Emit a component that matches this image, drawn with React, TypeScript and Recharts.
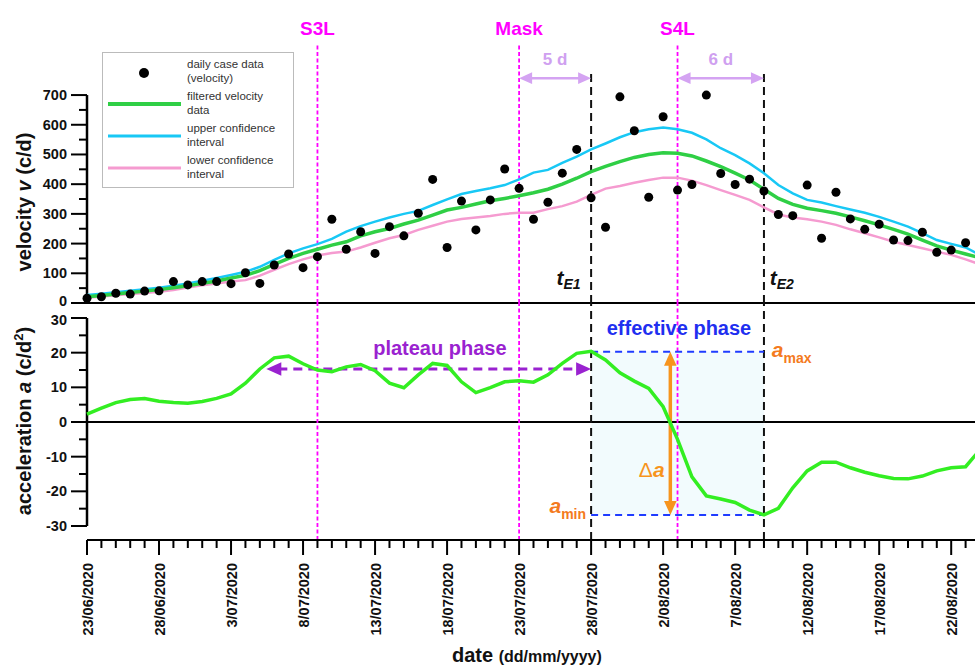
import React from 'react'
import { ComposedChart, Line, Scatter, XAxis, YAxis, ReferenceLine, ReferenceDot, ReferenceArea, Legend } from 'recharts'

// days since 23/06/2020
const dateTicks = ['23/06/2020', '28/06/2020', '3/07/2020', '8/07/2020', '13/07/2020', '18/07/2020', '23/07/2020', '28/07/2020', '2/08/2020', '7/08/2020', '12/08/2020', '17/08/2020', '22/08/2020']
const dayTicks = [0, 1, 2, 3, 4, 5, 6, 7, 8, 9, 10, 11, 12, 13, 14, 15, 16, 17, 18, 19, 20, 21, 22, 23, 24, 25, 26, 27, 28, 29, 30, 31, 32, 33, 34, 35, 36, 37, 38, 39, 40, 41, 42, 43, 44, 45, 46, 47, 48, 49, 50, 51, 52, 53, 54, 55, 56, 57, 58, 59, 60, 61, 62]
const vTicks = [0, 50, 100, 150, 200, 250, 300, 350, 400, 450, 500, 550, 600, 650, 700]
const aTicks = [-30, -25, -20, -15, -10, -5, 0, 5, 10, 15, 20, 25, 30]

const dailyCases = [16, 21, 33, 30, 40, 41, 72, 61, 72, 72, 65, 102, 66, 128, 165, 119, 156, 282, 181, 240, 167, 257, 226, 302, 416, 187, 343, 246, 347, 451, 386, 282, 339, 437, 517, 354, 255, 694, 580, 356, 627, 380, 399, 700, 436, 399, 417, 377, 298, 294, 397, 218, 373, 283, 248, 265, 212, 210, 238, 171, 178, 203]
const filtered = [21, 25, 30, 35, 40, 45, 51, 58, 66, 74, 84, 93, 109, 130, 150, 167, 181, 195, 206, 226, 240, 251, 266, 279, 296, 313, 322, 333, 344, 352, 361, 371, 383, 400, 420, 442, 460, 476, 490, 500, 506, 504, 495, 478, 459, 437, 414, 383, 352, 332, 319, 311, 302, 290, 277, 263, 248, 232, 212, 192, 178, 165, 152]
const upper = [27, 31, 36, 41, 46, 51, 58, 66, 75, 84, 94, 105, 122, 145, 167, 184, 198, 216, 240, 259, 274, 288, 300, 310, 330, 349, 367, 377, 386, 397, 416, 439, 448, 472, 493, 517, 537, 558, 575, 585, 591, 585, 573, 551, 521, 498, 470, 437, 397, 369, 347, 338, 326, 315, 304, 290, 274, 257, 235, 212, 199, 187, 162]
const lower = [18, 22, 26, 30, 34, 38, 44, 52, 60, 66, 72, 77, 92, 112, 131, 147, 160, 168, 173, 187, 203, 218, 229, 246, 260, 274, 283, 288, 293, 300, 304, 304, 316, 326, 341, 364, 385, 394, 405, 414, 422, 422, 412, 397, 380, 364, 347, 322, 298, 288, 282, 274, 263, 248, 235, 221, 206, 195, 184, 173, 162, 147, 130]
const accel = [2.3, 4.0, 5.6, 6.5, 6.8, 6.0, 5.6, 5.4, 5.9, 6.8, 8.1, 11.2, 15.3, 18.5, 19.0, 16.8, 15.0, 14.5, 15.9, 16.6, 14.8, 11.2, 9.9, 13.6, 16.9, 16.3, 11.6, 8.5, 9.9, 11.6, 11.9, 11.5, 13.6, 16.9, 19.8, 20.4, 17.9, 14.2, 11.8, 9.7, 4.4, -5.0, -15.8, -21.3, -22.2, -23.2, -25.4, -26.8, -24.9, -19.0, -14.1, -11.6, -11.6, -13.2, -14.5, -15.5, -16.3, -16.4, -15.6, -14.1, -13.2, -12.9, -8.0]

const measures = [{ name: 'S3L', day: 16 }, { name: 'Mask', day: 30 }, { name: 'S4L', day: 41 }]
const effectDays = [35, 47] // tE1, tE2
const aMax = 20.3
const aMin = -26.8

const rows = filtered.map((f, i) => ({ day: i, filtered: f, upper: upper[i], lower: lower[i], accel: accel[i] }))
const dots = dailyCases.map((v, i) => ({ day: i, v }))

const FONT = 'Liberation Sans, Arial, sans-serif'
const AX = 87
const X_AXIS_Y = 237

const VTick = ({ y, payload }: any) => {
  const major = payload.value % 100 === 0
  return (
    <g>
      <line x1={AX - (major ? 16 : 8)} x2={AX} y1={y} y2={y} stroke="#000" strokeWidth={2} />
      {major && <text x={AX - 20} y={y} dy={payload.value === 0 ? 3 : 5} textAnchor="end" fontSize={14.5} fontWeight="bold" fontFamily={FONT} fill="#111">{payload.value}</text>}
    </g>
  )
}

const ATick = ({ y, payload }: any) => {
  const major = payload.value % 10 === 0
  return (
    <g>
      <line x1={AX - (major ? 16 : 8)} x2={AX} y1={y} y2={y} stroke="#000" strokeWidth={2} />
      {major && <text x={AX - 20} y={y} dy={payload.value === 30 ? 7 : 5} textAnchor="end" fontSize={14.5} fontWeight="bold" fontFamily={FONT} fill="#111">{payload.value}</text>}
    </g>
  )
}

const DayTick = ({ x, payload }: any) => {
  const d = payload.value
  const major = d % 5 === 0
  return (
    <g>
      <line x1={x} x2={x} y1={X_AXIS_Y} y2={X_AXIS_Y + (major ? 15 : 8)} stroke="#000" strokeWidth={2} />
      {major && (
        <text x={x + 6} y={X_AXIS_Y + 23} transform={`rotate(-90, ${x + 6}, ${X_AXIS_Y + 23})`} textAnchor="end" fontSize={14.5} fontWeight="bold" fontFamily={FONT} fill="#111">
          {dateTicks[d / 5]}
        </text>
      )}
    </g>
  )
}

// double-headed arrow drawn between the two ends of a reference segment
const arrow = (color: string, width: number, head: number, dash?: string) => (p: any) => {
  const { x1, y1, x2, y2 } = p
  const len = Math.hypot(x2 - x1, y2 - y1) || 1
  const ux = (x2 - x1) / len
  const uy = (y2 - y1) / len
  const hw = head * 0.45
  const tri = (tx: number, ty: number, s: number) => {
    const bx = tx - s * ux * head
    const by = ty - s * uy * head
    return `${tx},${ty} ${bx - uy * hw},${by + ux * hw} ${bx + uy * hw},${by - ux * hw}`
  }
  return (
    <g>
      <line x1={x1 + ux * head * 0.8} y1={y1 + uy * head * 0.8} x2={x2 - ux * head * 0.8} y2={y2 - uy * head * 0.8} stroke={color} strokeWidth={width} strokeDasharray={dash} />
      <polygon points={tri(x2, y2, 1)} fill={color} />
      <polygon points={tri(x1, y1, -1)} fill={color} />
    </g>
  )
}

const note = (content: React.ReactNode, color: string, size: number, anchor = 'middle', italic = false) => (p: any) => (
  <text x={p.cx} y={p.cy} textAnchor={anchor} fontSize={size} fontWeight="bold" fontStyle={italic ? 'italic' : 'normal'} fontFamily={FONT} fill={color}>
    {content}
  </text>
)

const LegendBox = () => (
  <svg width={192} height={136} style={{ display: 'block' }}>
    <rect x={0.5} y={0.5} width={191} height={135} fill="#fff" stroke="#bbb" />
    <g fontFamily={FONT} fontSize={11.5} fill="#333">
      <circle cx={42} cy={21} r={5} fill="#000" />
      <text x={85} y={16}>daily case data</text>
      <text x={85} y={30}>(velocity)</text>
      <line x1={6} x2={79} y1={52} y2={52} stroke="#2fcf45" strokeWidth={4} />
      <text x={85} y={48}>filtered velocity</text>
      <text x={85} y={62}>data</text>
      <line x1={6} x2={79} y1={84} y2={84} stroke="#18c8f5" strokeWidth={3} />
      <text x={85} y={80}>upper confidence</text>
      <text x={85} y={94}>interval</text>
      <line x1={6} x2={79} y1={116} y2={116} stroke="#f59bd0" strokeWidth={3} />
      <text x={85} y={112}>lower confidence</text>
      <text x={85} y={126}>interval</text>
    </g>
  </svg>
)

export default function App() {
  return (
    <div style={{ position: 'fixed', left: 0, top: 0, width: 975, height: 666, overflow: 'hidden', background: '#fff' }}>
      <div style={{ position: 'absolute', left: 0, top: 0 }}>
        <ComposedChart width={980} height={310} data={rows} margin={{ top: 0, right: 0, bottom: 7, left: 0 }}>
          <XAxis dataKey="day" type="number" domain={[0, 62]} hide />
          <YAxis type="number" domain={[0, 1020]} ticks={vTicks} interval={0} width={AX} axisLine={false} tickLine={false} tick={<VTick />} />
          <Legend layout="vertical" align="center" verticalAlign="middle" content={() => <LegendBox />} wrapperStyle={{ left: 102, top: 52, width: 192, height: 136 }} />
          <ReferenceLine y={0} stroke="#000" strokeWidth={2} />
          <ReferenceLine segment={[{ x: 0, y: 0 }, { x: 0, y: 700 }]} stroke="#000" strokeWidth={2.5} />
          {measures.map(m => (
            <ReferenceLine key={m.name} segment={[{ x: m.day, y: 0 }, { x: m.day, y: 875 }]} stroke="#ff00ff" strokeWidth={1.8} strokeDasharray="4 2.5" />
          ))}
          {effectDays.map(d => (
            <ReferenceLine key={d} segment={[{ x: d, y: 0 }, { x: d, y: 778 }]} stroke="#111" strokeWidth={2} strokeDasharray="8 5" />
          ))}
          <ReferenceLine segment={[{ x: 30, y: 757 }, { x: 35, y: 757 }]} shape={arrow('#d4a3f2', 2.5, 13)} />
          <ReferenceLine segment={[{ x: 41, y: 757 }, { x: 47, y: 757 }]} shape={arrow('#d4a3f2', 2.5, 13)} />
          <Line dataKey="upper" type="linear" stroke="#18c8f5" strokeWidth={2.5} dot={false} isAnimationActive={false} />
          <Line dataKey="lower" type="linear" stroke="#f59bd0" strokeWidth={2.5} dot={false} isAnimationActive={false} />
          <Line dataKey="filtered" type="linear" stroke="#2fcf45" strokeWidth={3.5} dot={false} isAnimationActive={false} />
          <Scatter data={dots} dataKey="v" isAnimationActive={false} shape={(p: any) => <circle cx={p.cx} cy={p.cy} r={4.5} fill="#000" />} />
          {measures.map(m => (
            <ReferenceDot key={m.name} x={m.day} y={902} shape={note(m.name, '#ff00ff', 19)} />
          ))}
          <ReferenceDot x={32.5} y={801} shape={note('5 d', '#cfa0f0', 17)} />
          <ReferenceDot x={44} y={801} shape={note('6 d', '#cfa0f0', 17)} />
          <ReferenceDot x={32.6} y={61} shape={note(<><tspan>t</tspan><tspan fontSize={14} dy={4}>E1</tspan></>, '#111', 21, 'start', true)} />
          <ReferenceDot x={47.4} y={61} shape={note(<><tspan>t</tspan><tspan fontSize={14} dy={4}>E2</tspan></>, '#111', 21, 'start', true)} />
        </ComposedChart>
      </div>

      <div style={{ position: 'absolute', left: 0, top: 303 }}>
        <ComposedChart width={980} height={363} data={rows} margin={{ top: 0, right: 0, bottom: 0, left: 0 }}>
          <XAxis dataKey="day" type="number" domain={[0, 62]} ticks={dayTicks} interval={0} height={126} tickLine={false} axisLine={{ stroke: '#000', strokeWidth: 2 }} tick={<DayTick />} />
          <YAxis type="number" domain={[-34.04, 34.33]} ticks={aTicks} interval={0} width={AX} axisLine={false} tickLine={false} tick={<ATick />} />
          <ReferenceArea x1={35} x2={47} y1={aMin} y2={aMax} fill="#f2fbfd" fillOpacity={1} stroke="none" />
          <ReferenceLine y={0} stroke="#000" strokeWidth={2} />
          <ReferenceLine segment={[{ x: 0, y: -30 }, { x: 0, y: 30 }]} stroke="#000" strokeWidth={2.5} />
          {measures.map(m => (
            <ReferenceLine key={m.name} x={m.day} stroke="#ff00ff" strokeWidth={1.8} strokeDasharray="4 2.5" />
          ))}
          {effectDays.map(d => (
            <ReferenceLine key={d} x={d} stroke="#111" strokeWidth={2} strokeDasharray="8 5" />
          ))}
          <ReferenceLine segment={[{ x: 35, y: aMax }, { x: 47, y: aMax }]} stroke="#1f3cff" strokeWidth={2} strokeDasharray="7 5" />
          <ReferenceLine segment={[{ x: 35, y: aMin }, { x: 47, y: aMin }]} stroke="#1f3cff" strokeWidth={2} strokeDasharray="7 5" />
          <ReferenceLine segment={[{ x: 12.45, y: 15.3 }, { x: 35, y: 15.3 }]} shape={arrow('#9a22d0', 3, 15, '9 6')} />
          <ReferenceLine segment={[{ x: 40.5, y: aMax }, { x: 40.5, y: aMin }]} shape={arrow('#f7941d', 3.5, 14)} />
          <Line dataKey="accel" type="linear" stroke="#33ee22" strokeWidth={3.5} dot={false} isAnimationActive={false} />
          <ReferenceDot x={24.5} y={19.2} shape={note('plateau phase', '#9a22d0', 20)} />
          <ReferenceDot x={41.1} y={25.1} shape={note('effective phase', '#1f2ff0', 20)} />
          <ReferenceDot x={47.55} y={18.8} shape={note(<><tspan fontStyle="italic">a</tspan><tspan fontSize={14} dy={6}>max</tspan></>, '#f47a20', 21, 'start')} />
          <ReferenceDot x={34.65} y={-26.3} shape={note(<><tspan fontStyle="italic">a</tspan><tspan fontSize={14} dy={6}>min</tspan></>, '#f47a20', 21, 'end')} />
          <ReferenceDot x={40.1} y={-15.9} shape={note(<><tspan fontWeight="normal">Δ</tspan><tspan fontStyle="italic">a</tspan></>, '#f7941d', 21, 'end')} />
        </ComposedChart>
      </div>

      <svg width={975} height={666} style={{ position: 'absolute', left: 0, top: 0, pointerEvents: 'none' }} fontFamily={FONT} fontWeight="bold" fill="#111">
        <text x={31} y={202} transform="rotate(-90, 31, 202)" textAnchor="middle" fontSize={20}>
          velocity <tspan fontStyle="italic">v</tspan> (c/d)
        </text>
        <text x={31} y={421} transform="rotate(-90, 31, 421)" textAnchor="middle" fontSize={20}>
          acceleration <tspan fontStyle="italic">a</tspan> (c/d<tspan fontSize={13} dy={-8}>2</tspan><tspan dy={8}>)</tspan>
        </text>
        <text x={452} y={662} fontSize={20}>
          date <tspan fontSize={16}>(dd/mm/yyyy)</tspan>
        </text>
      </svg>
    </div>
  )
}
